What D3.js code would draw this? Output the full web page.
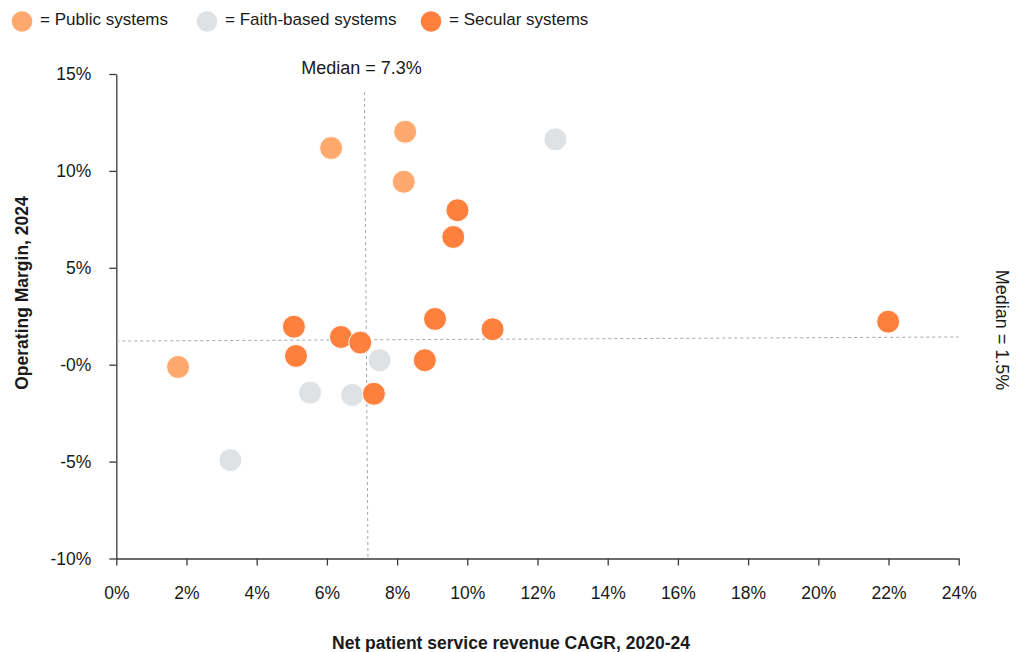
<!DOCTYPE html>
<html>
<head>
<meta charset="utf-8">
<script src="https://cdn.jsdelivr.net/npm/d3@7"></script>
<style>
  body { margin: 0; background: #fff; }
  svg text { font-family: "Liberation Sans", Arial, Helvetica, sans-serif; fill: #1a1a1a; }
</style>
</head>
<body>
<div id="chart"></div>
<script>
// groups
var groups = ['Public systems', 'Faith-based systems', 'Secular systems'];
var groupColors = ['#ffa96f', '#dfe2e5', '#ff7f3c'];

// revenue CAGR 2020-24 (%) and operating margin 2024 (%)
var publicX = [1.76, 6.12, 8.23, 8.19];
var publicY = [-0.12, 11.18, 12.02, 9.44];
var faithX = [12.51, 7.50, 5.52, 6.72, 3.25];
var faithY = [11.63, 0.23, -1.44, -1.56, -4.92];
var secularX = [9.72, 9.60, 5.06, 6.40, 6.95, 9.08, 10.72, 5.12, 8.79, 7.34, 21.99];
var secularY = [7.97, 6.59, 1.96, 1.43, 1.14, 2.36, 1.83, 0.45, 0.23, -1.50, 2.22];

var xTicks = [0, 2, 4, 6, 8, 10, 12, 14, 16, 18, 20, 22, 24];
var yTicks = [15, 10, 5, 0, -5, -10];
var yTickLabels = ['15%', '10%', '5%', '-0%', '-5%', '-10%'];

// median guides (as drawn, slightly skewed)
var medianXLine = [[7.07, 14.07], [7.17, -10]];
var medianYLine = [[0, 1.22], [24, 1.43]];

var width = 1026, height = 652;

var x = d3.scaleLinear().domain([0, 24]).range([116.3, 958.7]);
var y = d3.scaleLinear().domain([-10, 15]).range([558.5, 74]);

var svg = d3.select('#chart').append('svg')
    .attr('width', width)
    .attr('height', height);

// legend
var legend = svg.append('g');
var legendX = [22, 207, 431];
groups.forEach(function (g, i) {
  legend.append('circle')
      .attr('cx', legendX[i])
      .attr('cy', 21.5)
      .attr('r', 10.3)
      .attr('fill', groupColors[i]);
  legend.append('text')
      .attr('x', legendX[i] + 18)
      .attr('y', 24.5)
      .style('font-size', '17px')
      .text('= ' + g);
});

// axes
var xAxis = svg.append('g')
    .attr('transform', 'translate(0,' + y(-10) + ')')
    .call(d3.axisBottom(x).tickValues(xTicks).tickSize(7).tickSizeOuter(0)
      .tickFormat(function (d) { return d + '%'; }));

var yAxis = svg.append('g')
    .attr('transform', 'translate(' + x(0) + ',0)')
    .call(d3.axisLeft(y).tickValues(yTicks).tickSize(7).tickSizeOuter(0)
      .tickFormat(function (d, i) { return yTickLabels[i]; }));

[xAxis, yAxis].forEach(function (a) {
  a.select('.domain').attr('stroke', '#3a3a3a').attr('stroke-width', 1.3);
  a.selectAll('.tick line').attr('stroke', '#3a3a3a').attr('stroke-width', 1.3);
  a.selectAll('.tick text')
      .style('font-size', '17.5px')
      .style('font-family', '"Liberation Sans", Arial, sans-serif')
      .attr('fill', '#1a1a1a');
});
xAxis.selectAll('.tick text').attr('dy', '0').attr('y', 40);
yAxis.selectAll('.tick text').attr('x', -25);

// median lines
var line = d3.line().x(function (d) { return x(d[0]); }).y(function (d) { return y(d[1]); });
[medianXLine, medianYLine].forEach(function (m) {
  svg.append('path')
      .attr('d', line(m))
      .attr('fill', 'none')
      .attr('stroke', '#a3a7b3')
      .attr('stroke-width', 1)
      .attr('stroke-dasharray', '3,3');
});

svg.append('text')
    .attr('x', 361.5)
    .attr('y', 74)
    .attr('text-anchor', 'middle')
    .style('font-size', '18px')
    .text('Median = 7.3%');

svg.append('text')
    .attr('transform', 'translate(996,330) rotate(90)')
    .attr('text-anchor', 'middle')
    .style('font-size', '18px')
    .text('Median = 1.5%');

// points
var series = [
  {xs: publicX, ys: publicY, color: groupColors[0]},
  {xs: faithX, ys: faithY, color: groupColors[1]},
  {xs: secularX, ys: secularY, color: groupColors[2]}
];
series.forEach(function (s) {
  svg.append('g').selectAll('circle')
      .data(d3.zip(s.xs, s.ys))
      .enter()
      .append('circle')
      .attr('cx', function (d) { return x(d[0]); })
      .attr('cy', function (d) { return y(d[1]); })
      .attr('r', 11.5)
      .attr('fill', s.color)
      .attr('stroke', '#fff')
      .attr('stroke-width', 1);
});

// axis titles
svg.append('text')
    .attr('transform', 'translate(27.5,293) rotate(-90)')
    .attr('text-anchor', 'middle')
    .style('font-size', '17.5px')
    .style('font-weight', 'bold')
    .text('Operating Margin, 2024');

svg.append('text')
    .attr('x', 511)
    .attr('y', 649)
    .attr('text-anchor', 'middle')
    .style('font-size', '17.5px')
    .style('font-weight', 'bold')
    .text('Net patient service revenue CAGR, 2020-24');
</script>
</body>
</html>
